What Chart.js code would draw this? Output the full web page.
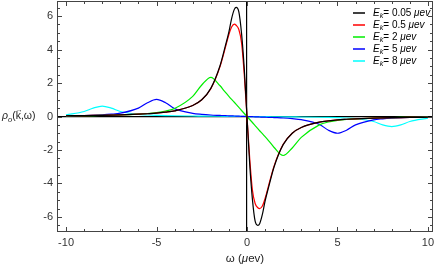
<!DOCTYPE html>
<html>
<head>
<meta charset="utf-8">
<script src="https://cdn.jsdelivr.net/npm/chart.js@4/dist/chart.umd.min.js"></script>
<style>
  html, body { margin: 0; padding: 0; background: #fff; }
  #wrap { width: 436px; height: 268px; }
</style>
</head>
<body>
<div id="wrap"><canvas id="grafico-rho"></canvas></div>
<script>
// omega (μev)
const omega = [-10, -9, -8.5, -8, -7.5, -7, -6, -5.5, -5, -4.5, -4, -3, -2.5, -2, -1.5, -1.2, -1, -0.85, -0.7, -0.6, -0.45, -0.3, -0.15,
  0, 0.15, 0.3, 0.45, 0.6, 0.7, 0.85, 1, 1.2, 1.5, 2, 2.5, 3, 4, 4.5, 5, 5.5, 6, 7, 7.5, 8, 8.5, 9, 10];

// valores
const rhoE005 = [0.045, 0.056, 0.063, 0.072, 0.083, 0.097, 0.136, 0.165, 0.2, 0.26, 0.34, 0.66, 1.0, 1.68, 3.0, 4.2, 5.05, 5.85, 6.4, 6.52, 6.25, 4.95, 2.85,
  0, -2.85, -4.95, -6.25, -6.5, -6.4, -5.85, -5.05, -4.2, -3.0, -1.68, -1.0, -0.66, -0.34, -0.26, -0.2, -0.165, -0.136, -0.097, -0.083, -0.072, -0.063, -0.056, -0.045];
const rhoE05 = [0.045, 0.056, 0.063, 0.072, 0.083, 0.097, 0.136, 0.165, 0.2, 0.26, 0.34, 0.66, 1.0, 1.66, 2.95, 4.1, 4.9, 5.35, 5.52, 5.45, 5.2, 4.4, 2.5,
  0, -2.5, -4.4, -5.2, -5.45, -5.5, -5.35, -4.9, -4.1, -2.95, -1.66, -1.0, -0.66, -0.34, -0.26, -0.2, -0.165, -0.136, -0.097, -0.083, -0.072, -0.063, -0.056, -0.045];
const rhoE2 = [0.04, 0.05, 0.055, 0.065, 0.075, 0.09, 0.14, 0.18, 0.24, 0.33, 0.48, 1.2, 1.88, 2.34, 1.85, 1.45, 1.2, 1.02, 0.85, 0.72, 0.54, 0.36, 0.18,
  0, -0.18, -0.36, -0.54, -0.72, -0.85, -1.02, -1.2, -1.45, -1.85, -2.33, -1.88, -1.25, -0.5, -0.33, -0.24, -0.18, -0.14, -0.09, -0.075, -0.065, -0.055, -0.05, -0.04];
const rhoE5 = [0.04, 0.06, 0.075, 0.1, 0.14, 0.2, 0.5, 0.82, 1.02, 0.82, 0.47, 0.19, 0.13, 0.09, 0.065, 0.05, 0.042, 0.036, 0.03, 0.026, 0.02, 0.013, 0.006,
  0, -0.006, -0.013, -0.02, -0.026, -0.03, -0.036, -0.042, -0.05, -0.065, -0.09, -0.13, -0.19, -0.47, -0.82, -1.0, -0.82, -0.5, -0.2, -0.14, -0.1, -0.075, -0.06, -0.04];
const rhoE8 = [0.1, 0.3, 0.5, 0.62, 0.5, 0.3, 0.12, 0.09, 0.07, 0.055, 0.045, 0.03, 0.025, 0.02, 0.015, 0.012, 0.01, 0.008, 0.007, 0.006, 0.0045, 0.003, 0.0015,
  0, -0.0015, -0.003, -0.0045, -0.006, -0.007, -0.008, -0.01, -0.012, -0.015, -0.02, -0.025, -0.03, -0.045, -0.055, -0.07, -0.09, -0.12, -0.3, -0.5, -0.6, -0.5, -0.3, -0.1];

const energias = ['0.05', '0.5', '2', '5', '8'];
const cores = ['#000000', '#ff0000', '#00ee00', '#0000ff', '#00ffff'];
const series = [rhoE005, rhoE05, rhoE2, rhoE5, rhoE8];

const xTicks = [-10, -5, 0, 5, 10];
const yTicks = [-6, -4, -2, 0, 2, 4, 6];

const FONTE = "'Liberation Sans', Arial, sans-serif";

// desenha texto com partes em itálico / subscrito / seta por cima
function textoRico(ctx, partes, x, y, size, align) {
  const fontOf = p => (p.it ? 'italic ' : '') + (p.sub ? size * 0.72 : size) + 'px ' + FONTE;
  let total = 0;
  partes.forEach(p => { ctx.font = fontOf(p); total += ctx.measureText(p.t).width; });
  let cx = align === 'right' ? x - total : (align === 'center' ? x - total / 2 : x);
  ctx.textBaseline = 'middle';
  ctx.textAlign = 'left';
  partes.forEach(p => {
    ctx.font = fontOf(p);
    const w = ctx.measureText(p.t).width;
    ctx.fillText(p.t, cx, p.sub ? y + size * 0.3 : y);
    if (p.seta) {
      ctx.font = (size * 0.7) + 'px ' + FONTE;
      ctx.textAlign = 'center';
      ctx.fillText('→', cx + w / 2 + 0.5, y - size * 0.62);
      ctx.textAlign = 'left';
    }
    cx += w;
  });
}

const molduraPlugin = {
  id: 'moldura',
  afterDatasetsDraw(chart) {
    const ctx = chart.ctx, a = chart.chartArea;
    const xs = chart.scales.x, ys = chart.scales.y;
    ctx.save();
    ctx.strokeStyle = '#444';
    ctx.lineWidth = 1;
    ctx.strokeRect(Math.round(a.left) + 0.5, Math.round(a.top) + 0.5, Math.round(a.right - a.left) - 1, Math.round(a.bottom - a.top) - 1);
    ctx.beginPath();
    for (let v = -10; v <= 10; v++) {
      const len = v % 5 === 0 ? 5 : 3;
      const px = Math.round(xs.getPixelForValue(v)) + 0.5;
      ctx.moveTo(px, a.bottom); ctx.lineTo(px, a.bottom - len);
      ctx.moveTo(px, a.top); ctx.lineTo(px, a.top + len);
    }
    for (let v = -6.5; v <= 6.5; v += 0.5) {
      const len = v % 2 === 0 ? 5 : 3;
      const py = Math.round(ys.getPixelForValue(v)) + 0.5;
      ctx.moveTo(a.left, py); ctx.lineTo(a.left + len, py);
      ctx.moveTo(a.right, py); ctx.lineTo(a.right - len, py);
    }
    ctx.stroke();
    ctx.restore();
  },
  afterDraw(chart) {
    const ctx = chart.ctx, a = chart.chartArea;
    ctx.save();
    // legenda
    energias.forEach((e, i) => {
      const y = 13 + i * 12;
      ctx.strokeStyle = cores[i];
      ctx.lineWidth = 1.5;
      ctx.beginPath();
      ctx.moveTo(353, y); ctx.lineTo(365, y);
      ctx.stroke();
      ctx.fillStyle = '#000';
      textoRico(ctx, [
        { t: 'E', it: true }, { t: 'k', it: true, sub: true },
        { t: '= ' + e + ' ' }, { t: 'μ', it: true }, { t: 'ev', it: true }
      ], 373, y, 10, 'left');
    });
    // rótulo do eixo y
    ctx.fillStyle = '#222';
    textoRico(ctx, [
      { t: 'ρ', it: true }, { t: 'o', it: true, sub: true },
      { t: '(' }, { t: 'k', seta: true }, { t: ',ω)' }
    ], 2, chart.scales.y.getPixelForValue(0), 10.5, 'left');
    // título do eixo x
    textoRico(ctx, [{ t: 'ω (' }, { t: 'μ', it: true }, { t: 'ev)' }],
      (a.left + a.right) / 2, 259, 11.5, 'center');
    ctx.restore();
  }
};

const ctx = document.getElementById('grafico-rho').getContext('2d');

new Chart(ctx, {
  type: 'line',
  data: {
    datasets: series.map((s, i) => ({
      label: 'E_k= ' + energias[i] + ' μev',
      data: omega.map((w, j) => ({ x: w, y: s[j] })),
      borderColor: cores[i],
      borderWidth: 1.2,
      pointRadius: 0,
      fill: false,
      cubicInterpolationMode: 'monotone'
    }))
  },
  options: {
    responsive: true,
    maintainAspectRatio: false,
    animation: false,
    layout: { padding: { top: 1, right: 3, left: 0, bottom: 0 } },
    plugins: {
      legend: { display: false },
      tooltip: { enabled: false }
    },
    scales: {
      x: {
        type: 'linear',
        min: -10.5,
        max: 10.28,
        afterBuildTicks: s => { s.ticks = xTicks.map(v => ({ value: v })); },
        afterFit: s => { s.height = 36; s.paddingLeft = 0; s.paddingRight = 0; },
        border: { display: false },
        grid: {
          drawTicks: false,
          lineWidth: 1.2,
          color: c => (c.tick && c.tick.value === 0 ? '#000' : 'rgba(0,0,0,0)')
        },
        ticks: { color: '#333', font: { size: 11, family: FONTE }, padding: 4, maxRotation: 0 }
      },
      y: {
        min: -6.9,
        max: 6.9,
        afterBuildTicks: s => { s.ticks = yTicks.map(v => ({ value: v })); },
        afterFit: s => { s.width = 57; s.paddingTop = 0; s.paddingBottom = 0; },
        border: { display: false },
        grid: {
          drawTicks: false,
          lineWidth: 1.2,
          color: c => (c.tick && c.tick.value === 0 ? '#000' : 'rgba(0,0,0,0)')
        },
        ticks: { color: '#333', font: { size: 11, family: FONTE }, padding: 4 }
      }
    }
  },
  plugins: [molduraPlugin]
});
</script>
</body>
</html>
